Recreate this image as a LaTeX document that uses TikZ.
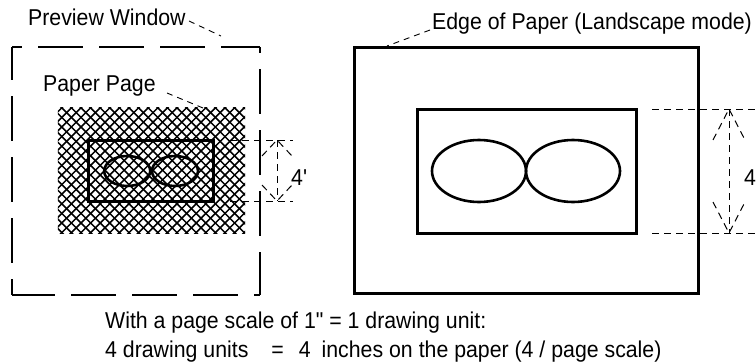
\documentclass[tikz,border=0pt]{standalone}
\usepackage{fontspec}
\setmainfont{Liberation Sans}[Ligatures=TeXOff, FakeStretch=0.93]
\usetikzlibrary{shapes.geometric}
\begin{document}
\begin{tikzpicture}[x=1pt,y=-1pt,
  lbl/.style={anchor=base west, inner sep=0pt, font=\fontsize{22.9}{27}\selectfont},
  leader/.style={line width=0.9pt, dash pattern=on 6pt off 5pt},
  dimline/.style={line width=1pt, dash pattern=on 7pt off 5pt},
  thickbox/.style={draw, line width=3pt, rectangle, inner sep=0pt},
  oval/.style={draw, line width=2.6pt, ellipse, inner sep=0pt},
  winedge/.style={line width=1.5pt, dash pattern=on 45pt off 16pt},
  hatchline/.style={line width=1.5pt}
]
\useasboundingbox (0,0) rectangle (756,364);

% ---------- left: preview window ----------
\coordinate (pwA) at (12,47);
\coordinate (pwB) at (260,47);
\coordinate (pwC) at (260,295);
\coordinate (pwD) at (12,295);
\draw[winedge, dash phase=35pt] (pwA) -- (pwB);
\draw[winedge, dash phase=39pt] (pwB) -- (pwC);
\draw[winedge, dash phase=2pt] (pwD) -- (pwC);
\draw[winedge, dash phase=12pt] (pwA) -- (pwD);

% hatched paper page
\node[inner sep=0pt, minimum width=187pt, minimum height=125pt] (hpage) at (151.5,170.5) {};
\begin{scope}
  \clip (hpage.south west) rectangle (hpage.north east);
  \foreach \c in {160,169.6,...,490} \draw[hatchline] ({\c-100},100) -- ({\c-240},240);
  \foreach \c in {-190,-180.4,...,150} \draw[hatchline] ({\c+100},100) -- ({\c+240},240);
\end{scope}

\node[thickbox, minimum width=125pt, minimum height=61pt] (linner) at (150.5,170.5) {};
\node[oval, minimum width=46pt, minimum height=30pt] (lov1) at (127.2,171) {};
\node[oval, minimum width=46pt, minimum height=30pt] (lov2) at (175,171) {};

% labels and leaders
\node[lbl] (pwtxt) at (28,26) {Preview Window};
\coordinate (pwl1) at (189,21);
\coordinate (pwl2) at (221,36);
\draw[leader] (pwl1) -- (pwl2);

\node[lbl] (pptxt) at (43,91) {Paper Page};
\coordinate (ppl1) at (167,93);
\coordinate (ppl2) at (203,108);
\draw[leader] (ppl1) -- (ppl2);

% left dimension
\coordinate (ld1) at (230,140);
\coordinate (ld1e) at (293,140);
\coordinate (ld2) at (230,201);
\coordinate (ld2e) at (293,201);
\draw[dimline] (ld1) -- (ld1e);
\draw[dimline] (ld2) -- (ld2e);
\coordinate (lt) at (277,140);
\coordinate (lb) at (277,201);
\draw[dimline] (lt) -- (lb);
\draw[dimline] (262,156) -- (lt) -- (292,156);
\draw[dimline] (262,185) -- (lb) -- (292,185);
\node[lbl] (ldim) at (291,185) {4'};

% ---------- right: landscape paper ----------
\node[thickbox, minimum width=344pt, minimum height=246pt] (router) at (526,170) {};
\node[thickbox, minimum width=219pt, minimum height=124pt] (rinner) at (526.5,171) {};
\node[oval, minimum width=94pt, minimum height=62pt] (rov1) at (479,171) {};
\node[oval, minimum width=94pt, minimum height=62pt] (rov2) at (573,171) {};

\node[lbl] (eptxt) at (432,30) {Edge of Paper (Landscape mode)};
\coordinate (epl1) at (430,30);
\coordinate (epl2) at (387,46);
\draw[leader] (epl1) -- (epl2);

% right dimension
\coordinate (rd1) at (652,109);
\coordinate (rd1e) at (756,109);
\coordinate (rd2) at (652,233);
\coordinate (rd2e) at (756,233);
\draw[dimline] (rd1) -- (rd1e);
\draw[dimline] (rd2) -- (rd2e);
\coordinate (rt) at (729,109);
\coordinate (rb) at (729,233);
\draw[dimline] (rt) -- (rb);
\draw[dimline] (713,140) -- (rt) -- (745,140);
\draw[dimline] (713,202) -- (rb) -- (745,202);
\node[lbl] (rdim) at (744,185) {4};

% ---------- caption ----------
\node[lbl] (cap1) at (105,328) {With a page scale of 1" = 1 drawing unit:};
\node[lbl] (cap2) at (105,357) {4 drawing units\hspace{23pt}=\hspace{15pt}4\hspace{11pt}inches on the paper (4 / page scale)};
\end{tikzpicture}
\end{document}
